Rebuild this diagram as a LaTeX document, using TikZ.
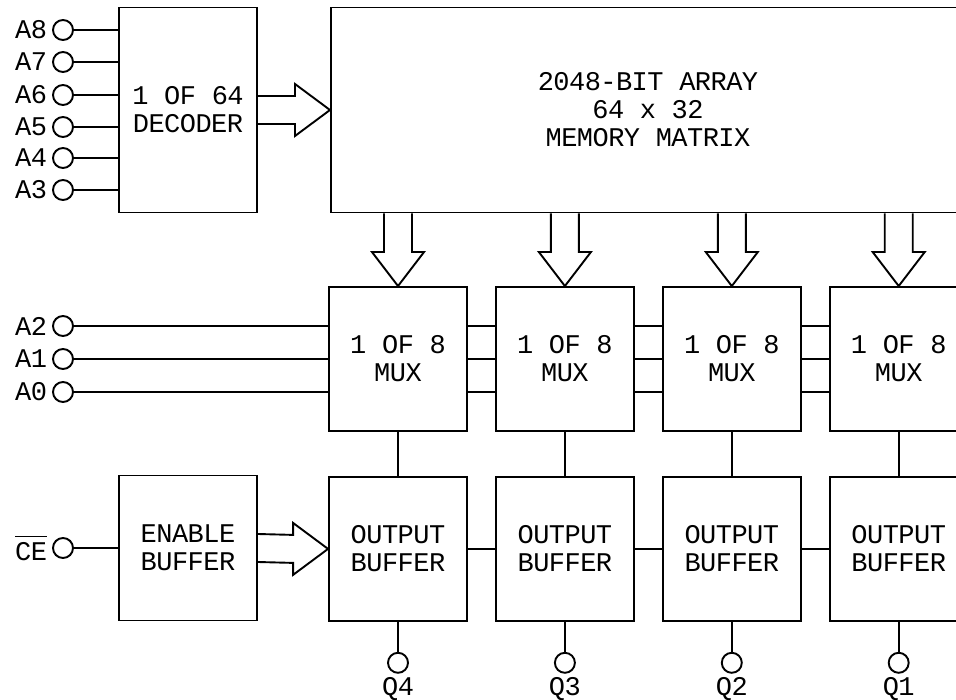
\documentclass[tikz,border=0pt]{standalone}
\usepackage{fontspec}
\newfontfamily\schfont[LetterSpace=-2]{Liberation Mono}
\usetikzlibrary{positioning,calc}

\tikzset{
  blk/.style={draw, rectangle, inner sep=0pt, align=center,
    minimum width=138pt, minimum height=144pt,
    font=\schfont\fontsize{27}{28}\selectfont},
  pad/.style={draw, circle, minimum size=20pt, inner sep=0pt},
  padlbl/.style={inner sep=0pt, font=\schfont\fontsize{27}{28}\selectfont}
}

% active-low pin name
\newcommand{\ovl}[1]{\vbox{\hrule height 1.6pt\kern 5pt\hbox{#1}}}

% wide bus arrows: open tail at the source, tip on the target
\newcommand{\busright}[2]{%
  \draw ($(#1.east)+(0,-14)$) -- ($(#2.west)+(-35,-14)$) -- ++(0,-12) -- (#2.west)
    -- ($(#2.west)+(-35,26)$) -- ++(0,-12) -- ($(#1.east)+(0,14)$);}
\newcommand{\busdown}[2]{%
  \draw ($(#2.north |- #1.south)+(-14,0)$) -- ($(#2.north)+(-14,-34)$) -- ++(-12,0) -- (#2.north)
    -- ($(#2.north)+(26,-34)$) -- ++(-12,0) -- ($(#2.north |- #1.south)+(14,0)$);}

\begin{document}
\begin{tikzpicture}[x=1pt, y=-1pt, line width=1.9pt, node distance=27pt]
    \useasboundingbox (0,0) rectangle (956,700);
    \clip (0,0) rectangle (956,700);

    % address decoder and memory matrix
    \node [blk, minimum height=205pt] (dec) at (188,110) {1 OF 64\\DECODER};
    \node [blk, minimum width=634pt, minimum height=205pt, anchor=west] (mem) at (330,110) {2048-BIT ARRAY\\64 x 32\\MEMORY MATRIX};

    % one mux and one output buffer per bit
    \node [blk] (mux1) at (398,359) {1 OF 8\\MUX};
    \node [blk, below=44pt of mux1] (buf1) {OUTPUT\\BUFFER};
    \foreach \i in {2,3,4} {
        \pgfmathtruncatemacro\j{\i-1}
        \node [blk, right=of mux\j] (mux\i) {1 OF 8\\MUX};
        \node [blk, right=of buf\j] (buf\i) {OUTPUT\\BUFFER};
    }
    \node [blk, minimum height=145pt] (en) at (188,548) {ENABLE\\BUFFER};

    % input pins
    \foreach \n/\y in {8/30,7/62,6/95,5/127,4/158,3/190} {
        \node [pad] (a\n) at (63,\y) {};
        \node [padlbl, left=4pt of a\n] (a\n l) {A\n};
        \draw (a\n) -- (a\n -| dec.west);
    }
    \foreach \n/\y in {2/326,1/359,0/392} {
        \node [pad] (a\n) at (63,\y) {};
        \node [padlbl, left=4pt of a\n] (a\n l) {A\n};
        \draw (a\n) -- (a\n -| mux1.west);
        \foreach \i/\j in {1/2,2/3,3/4}
            \draw (a\n -| mux\i.east) -- (a\n -| mux\j.west);
    }
    \node [pad] (ce) at (63,548) {};
    \node [padlbl, left=4pt of ce] (cel) {\ovl{CE}};
    \draw (ce) -- (en);

    % outputs
    \foreach \i/\q in {1/4,2/3,3/2,4/1} {
        \draw (mux\i) -- (buf\i);
        \node [pad, below=30pt of buf\i] (q\q) {};
        \node [padlbl, below=3pt of q\q] (q\q l) {Q\q};
        \draw (buf\i) -- (q\q);
    }
    \foreach \i/\j in {1/2,2/3,3/4}
        \draw (buf\i) -- (buf\j);

    % data buses
    \busright{dec}{mem}
    \busright{en}{buf1}
    \foreach \i in {1,...,4} {
        \busdown{mem}{mux\i}
    }
\end{tikzpicture}
\end{document}
